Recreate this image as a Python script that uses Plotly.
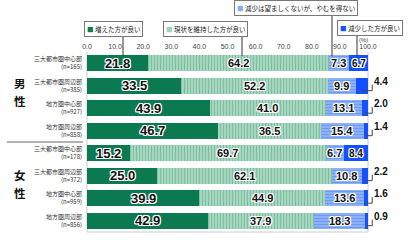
import plotly.graph_objects as go

categories = ["三大都市圏中心部", "三大都市圏周辺部", "地方圏中心部", "地方圏周辺部",
              "三大都市圏中心部", "三大都市圏周辺部", "地方圏中心部", "地方圏周辺部"]
sample_n = [165, 385, 927, 858, 178, 372, 959, 856]
groups = ["男性", "女性"]
series_names = ["増えた方が良い", "現状を維持した方が良い", "減少は望ましくないが、やむを得ない", "減少した方が良い"]
s1 = [21.8, 33.5, 43.9, 46.7, 15.2, 25.0, 39.9, 42.9]
s2 = [64.2, 52.2, 41.0, 36.5, 69.7, 62.1, 44.9, 37.9]
s3 = [7.3, 9.9, 13.1, 15.4, 6.7, 10.8, 13.6, 18.3]
s4 = [6.7, 4.4, 2.0, 1.4, 8.4, 2.2, 1.6, 0.9]
x_ticks = [0, 10, 20, 30, 40, 50, 60, 70, 80, 90, 100]

colors = ["#0b7a50", "#9ed2b8", "#86abf6", "#1450ff"]
FONT = "Liberation Sans, Noto Sans CJK JP, sans-serif"
JP = "Noto Sans CJK JP, sans-serif"
OUTLINE = "-1px -1px 0 #fff, 1px -1px 0 #fff, -1px 1px 0 #fff, 1px 1px 0 #fff, 0 1px 0 #fff, 0 -1px 0 #fff, 1px 0 0 #fff, -1px 0 0 #fff"

rows = list(range(len(categories)))
series = [s1, s2, s3, s4]
ticktext = [f"{c}<br>(n={n})" for c, n in zip(categories, sample_n)]

fig = go.Figure()
patterns = [
    dict(shape=""),
    dict(shape="|", bgcolor="#a6d6bf", fgcolor="#7ebf9f", size=3, solidity=0.35, fillmode="replace"),
    dict(shape="-", bgcolor="#8cb1f8", fgcolor="#6b97ee", size=3, solidity=0.3, fillmode="replace"),
    dict(shape=""),
]
for i, (name, vals) in enumerate(zip(series_names, series)):
    fig.add_trace(go.Bar(
        y=rows, x=vals, orientation="h", name=name, width=0.7,
        marker=dict(color=colors[i], line=dict(width=0), pattern=patterns[i]),
        showlegend=False, hoverinfo="skip",
    ))

annotations = []
shapes = []

def px_x(v):
    return v / 100.0

def px_y(r):
    return (7.5 - r) / 8.0

label_sizes = [13, 11, 11, 10]
for r in rows:
    cum = 0.0
    for i, vals in enumerate(series):
        v = vals[r]
        mid = cum + v / 2
        if v >= 5:
            annotations.append(dict(
                x=px_x(mid), y=px_y(r), xref="paper", yref="paper", text=f"{v:.1f}",
                showarrow=False, xanchor="center", yanchor="middle",
                font=dict(family=FONT, size=label_sizes[i], color="#111", weight="bold", shadow=OUTLINE),
            ))
        else:
            annotations.append(dict(
                x=px_x(101.3), y=px_y(r - 0.2), xref="paper", yref="paper", text=f"{v:.1f}",
                showarrow=False, xanchor="left", yanchor="middle",
                font=dict(family=FONT, size=10, color="#111", weight="bold", shadow=OUTLINE),
            ))
            shapes.append(dict(type="line", xref="paper", yref="paper",
                               x0=px_x(mid), x1=px_x(101.5), y0=px_y(r + 0.22), y1=px_y(r + 0.22),
                               line=dict(color="#444", width=1), layer="above"))
            shapes.append(dict(type="line", xref="paper", yref="paper",
                               x0=px_x(101.5), x1=px_x(101.5), y0=px_y(r + 0.22), y1=px_y(r - 0.05),
                               line=dict(color="#444", width=1), layer="above"))
        cum += v

# legend boxes with leader lines (pixel-estimated positions)
legend_px = [(113.5, 37), (205, 37), (296, 16), (369.5, 36)]
leader_xpx = [123, 242, 332, 357]
for i, name in enumerate(series_names):
    cx, by = legend_px[i]
    annotations.append(dict(
        x=(cx - 87) / 281, y=1 - (by - 52) / 180, xref="paper", yref="paper",
        yanchor="bottom", xanchor="center",
        text=f"<span style='color:{colors[i]}'>■</span> {name}",
        showarrow=False, bordercolor="#777", borderwidth=1, borderpad=2, bgcolor="#fff",
        font=dict(family=JP, size=6.5, color="#222"),
    ))
    xp = leader_xpx[i]
    shapes.append(dict(type="line", xref="paper", yref="paper",
                       x0=(xp - 87) / 281, x1=(xp - 87) / 281,
                       y0=1 - (by - 52) / 180, y1=1 - (56 - 52) / 180,
                       line=dict(color="#333", width=1), layer="above"))

# group labels (one character per annotation, stacked vertically)
group_char_py = [(83, 101), (175, 193)]
for g, name in enumerate(groups):
    for ch, py in zip(name, group_char_py[g]):
        annotations.append(dict(
            x=-0.238, y=1 - (py - 52) / 180, xref="paper", yref="paper",
            text=ch, showarrow=False, xanchor="center", yanchor="middle", borderpad=0,
            font=dict(family=JP, size=11.5, color="#111", weight="bold"),
        ))
annotations.append(dict(x=0.985, y=1 + 12 / 180, xref="paper", yref="paper", text="(%)",
                        showarrow=False, xanchor="center", yanchor="middle",
                        font=dict(family=FONT, size=6, color="#444")))

# separator & frame
shapes.append(dict(type="line", xref="paper", yref="paper", x0=-0.285, x1=-0.014, y0=0.5, y1=0.5,
                   line=dict(color="#999", width=1.5)))
for x0, y0, x1, y1 in [(0, 0, 0, 1), (1, 0, 1, 1), (0, 0, 1, 0)]:
    shapes.append(dict(type="line", xref="paper", yref="paper", x0=x0, x1=x1, y0=y0, y1=y1,
                       line=dict(color="#ccc", width=1), layer="below"))

fig.update_layout(
    barmode="stack", width=412, height=240,
    margin=dict(l=87, r=44, t=52, b=8),
    paper_bgcolor="#fff", plot_bgcolor="#fff",
    annotations=annotations, shapes=shapes,
    xaxis=dict(range=[0, 100], side="top", tickvals=x_ticks, ticktext=[f"{v:.1f}" for v in x_ticks],
               showgrid=False, zeroline=False, showline=False, ticks="",
               tickfont=dict(family=FONT, size=7, color="#444"), ticklabelstandoff=1),
    yaxis=dict(range=[7.5, -0.5], tickvals=rows, ticktext=ticktext, showgrid=False,
               zeroline=False, showline=False, ticks="",
               tickfont=dict(family=JP, size=6, color="#333"), ticklabelstandoff=4),
)
fig.write_html("out.html")
